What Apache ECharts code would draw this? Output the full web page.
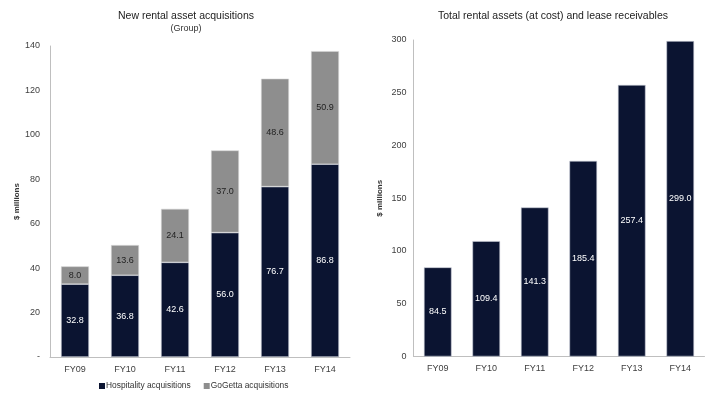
<!DOCTYPE html>
<html>
<head>
<meta charset="utf-8">
<script src="https://cdn.jsdelivr.net/npm/echarts@6/dist/echarts.min.js"></script>
<style>html,body{margin:0;padding:0;background:#fff}#c{width:716px;height:393px}</style>
</head>
<body>
<div id="c"></div>
<script>
const categories = ['FY09','FY10','FY11','FY12','FY13','FY14'];
const hospitality = [32.8, 36.8, 42.6, 56.0, 76.7, 86.8];
const goGetta = [8.0, 13.6, 24.1, 37.0, 48.6, 50.9];
const totalAssets = [84.5, 109.4, 141.3, 185.4, 257.4, 299.0];

const NAVY = '#0b1431';
const GREY = '#8e8e8e';
const FONT = '"Liberation Sans", Arial, sans-serif';
const axisLine = { show: true, lineStyle: { color: '#bfbfbf', width: 1 } };
const tickLbl = { color: '#404040', fontSize: 9, fontFamily: FONT };

const chart = echarts.init(document.getElementById('c'), null, { renderer: 'canvas' });
chart.setOption({
  animation: false,
  textStyle: { fontFamily: FONT },
  title: [
    { text: 'New rental asset acquisitions', subtext: '(Group)', left: 181, top: 6, textAlign: 'center', itemGap: 2,
      textStyle: { fontSize: 10.5, fontWeight: 'normal', color: '#222', fontFamily: FONT },
      subtextStyle: { fontSize: 9, color: '#333', fontFamily: FONT } },
    { text: 'Total rental assets (at cost) and lease receivables', left: 548, top: 6, textAlign: 'center',
      textStyle: { fontSize: 10.5, fontWeight: 'normal', color: '#222', fontFamily: FONT } }
  ],
  legend: {
    left: 94, top: 377, itemWidth: 6, itemHeight: 6, itemGap: 13, icon: 'rect',
    itemStyle: { borderWidth: 0 },
    textStyle: { fontSize: 8.4, color: '#333', fontFamily: FONT, padding: [0,0,0,-4] },
    data: ['Hospitality acquisitions', 'GoGetta acquisitions']
  },
  grid: [
    { left: 50, right: 366, top: 46, bottom: 36 },
    { left: 413.5, right: 11.5, top: 40, bottom: 36.5 }
  ],
  xAxis: [
    { type: 'category', gridIndex: 0, data: categories, axisLine: axisLine, axisTick: { show: false },
      axisLabel: Object.assign({ margin: 8 }, tickLbl) },
    { type: 'category', gridIndex: 1, data: categories, axisLine: axisLine, axisTick: { show: false },
      axisLabel: Object.assign({ margin: 8 }, tickLbl) }
  ],
  yAxis: [
    { type: 'value', gridIndex: 0, min: 0, max: 140, interval: 20, axisLine: axisLine, axisTick: { show: false },
      splitLine: { show: false },
      axisLabel: Object.assign({ margin: 10, formatter: v => v === 0 ? '-' : v, align: 'right' }, tickLbl),
      name: '$ millions', nameLocation: 'middle', nameGap: 28, nameRotate: 90,
      nameTextStyle: { fontSize: 8, fontWeight: 'bold', color: '#333', fontFamily: FONT } },
    { type: 'value', gridIndex: 1, min: 0, max: 300, interval: 50, axisLine: axisLine, axisTick: { show: false },
      splitLine: { show: false },
      axisLabel: Object.assign({ margin: 7 }, tickLbl),
      name: '$ millions', nameLocation: 'middle', nameGap: 30, nameRotate: 90,
      nameTextStyle: { fontSize: 8, fontWeight: 'bold', color: '#333', fontFamily: FONT } }
  ],
  series: [
    { name: 'Hospitality acquisitions', type: 'bar', stack: 'a', xAxisIndex: 0, yAxisIndex: 0, data: hospitality,
      barWidth: '56%', itemStyle: { color: NAVY, borderColor: '#c9cdd6', borderWidth: 0.6 },
      label: { show: true, position: 'inside', color: '#fff', fontSize: 9, fontFamily: FONT, formatter: p => p.value.toFixed(1) } },
    { name: 'GoGetta acquisitions', type: 'bar', stack: 'a', xAxisIndex: 0, yAxisIndex: 0, data: goGetta,
      barWidth: '56%', itemStyle: { color: GREY, borderColor: '#d6d6d6', borderWidth: 0.6 },
      label: { show: true, position: 'inside', color: '#222', fontSize: 9, fontFamily: FONT, formatter: p => p.value.toFixed(1) } },
    { name: 'Total', type: 'bar', xAxisIndex: 1, yAxisIndex: 1, data: totalAssets,
      barWidth: '57%', itemStyle: { color: NAVY, borderColor: '#c9cdd6', borderWidth: 0.6 },
      label: { show: true, position: 'inside', color: '#fff', fontSize: 9, fontFamily: FONT, formatter: p => p.value.toFixed(1) } }
  ]
});
</script>
</body>
</html>
